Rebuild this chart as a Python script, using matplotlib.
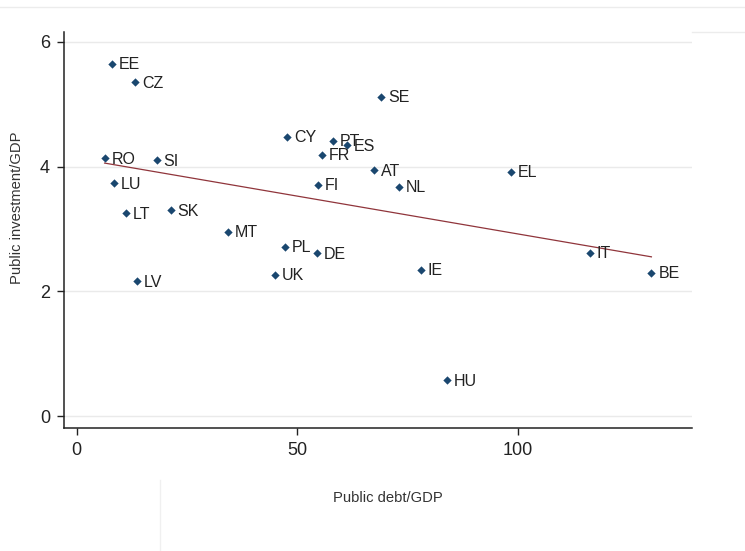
import numpy as np
import matplotlib
matplotlib.use("Agg")
from matplotlib import pyplot as plt

plt.rcParams['font.family'] = ['Liberation Sans', 'DejaVu Sans']

## data (public debt/GDP, public investment/GDP)
countries = ['EE', 'CZ', 'SE', 'CY', 'PT', 'ES', 'FR', 'RO', 'SI', 'AT', 'EL', 'NL',
             'LU', 'FI', 'LT', 'SK', 'MT', 'PL', 'DE', 'IT', 'UK', 'IE', 'BE', 'LV', 'HU']
debt = [7.9, 13.2, 68.9, 47.6, 58.0, 61.2, 55.6, 6.3, 18.1, 67.3, 98.4, 73.0,
        8.4, 54.6, 11.1, 21.3, 34.2, 47.2, 54.4, 116.3, 44.9, 78.0, 130.2, 13.6, 83.9]
invest = [5.65, 5.36, 5.12, 4.48, 4.42, 4.34, 4.19, 4.14, 4.10, 3.94, 3.92, 3.68,
          3.74, 3.71, 3.25, 3.30, 2.96, 2.72, 2.61, 2.62, 2.27, 2.35, 2.30, 2.16, 0.58]

navy = '#1a476f'
maroon = '#90353b'

fig = plt.figure(figsize=(7.45, 5.51), dpi=100)
ax = fig.add_axes([64/745, 123/551, 628/745, 396/551])

# linear fit over the data range
b, a = np.polyfit(debt, invest, 1)
xs = np.array([min(debt), max(debt)])
ax.plot(xs, a + b*xs, color=maroon, lw=0.9, zorder=2)

ax.scatter(debt, invest, marker='D', s=18, color=navy, zorder=3, linewidths=0)
for c, xv, yv in zip(countries, debt, invest):
    ax.annotate(c, (xv, yv), xytext=(5, -0.8), textcoords='offset points',
                va='center', ha='left', fontsize=11.5, color='#222222')

ax.set_xlim(-2.9, 139.4)
ax.set_ylim(-0.19, 6.16)
ax.set_xticks([0, 50, 100])
ax.set_yticks([0, 2, 4, 6])
ax.tick_params(labelsize=13, length=5, width=1, colors='#222222', pad=5)
ax.grid(axis='y', color='#eaeaea', lw=1)
ax.set_axisbelow(True)
for s in ['top', 'right']:
    ax.spines[s].set_visible(False)
for s in ['left', 'bottom']:
    ax.spines[s].set_linewidth(1.1)
    ax.spines[s].set_color('#222222')

fig.text(388/745, 1 - 498/551, 'Public debt/GDP', ha='center', va='center',
         fontsize=10.6, color='#333333')
fig.text(17/745, 1 - 208/551, 'Public investment/GDP', ha='center', va='center',
         rotation=90, fontsize=10.6, color='#333333')

# faint window borders from the screenshot
fig.add_artist(plt.Line2D([0, 1], [1 - 7/551, 1 - 7/551], color='#ececec', lw=1))
fig.add_artist(plt.Line2D([692/745, 1], [1 - 32/551, 1 - 32/551], color='#ececec', lw=1))
fig.add_artist(plt.Line2D([160/745, 160/745], [0, 1 - 480/551], color='#f0f0f0', lw=1))

fig.savefig('out.png', dpi=100)
